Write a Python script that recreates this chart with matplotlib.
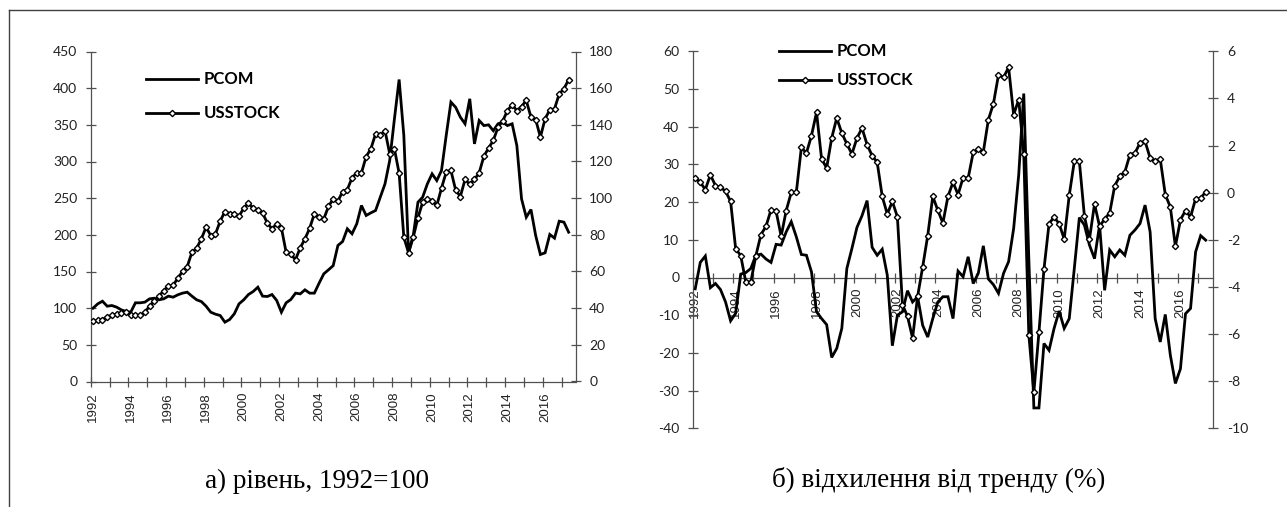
import matplotlib
matplotlib.use("Agg")
import matplotlib.pyplot as plt
import numpy as np
from matplotlib.lines import Line2D

plt.rcParams["axes.unicode_minus"] = False

# ---------------- data (quarterly, 1992Q1 - 2017Q2) ----------------
year_labels = [str(y) for y in range(1992, 2017, 2)]

pcom_level = [100, 105.9, 109.5, 102.7, 103.6, 101.4, 97.7, 95.5, 94.5, 107.3,
              107.3, 108.2, 112.7, 113.6, 111.4, 112.7, 116.4, 115, 118.2, 120.5,
              121.8, 116.4, 111.4, 109, 102.7, 94.5, 91.8, 90, 80.9, 84.5,
              92.3, 105.9, 111.4, 118.6, 122.7, 128.6, 116.4, 115.9, 118.6, 110.5,
              94.5, 107.3, 111.8, 120.5, 119.5, 125, 120.5, 120.5, 134, 146.8,
              152.3, 158, 185.5, 190.9, 208.2, 201.4, 215, 240, 226.4, 230,
              233.2, 251.4, 269.5, 301.4, 358, 411.8, 335.5, 176.4, 199, 244.5,
              251.4, 269.5, 283.2, 274, 287.7, 335.5, 381, 374, 360.5, 351.4,
              385.5, 324, 355.9, 349, 350, 342, 351.4, 353.6, 349, 351.4,
              321.8, 249, 224, 234.5, 199, 173.2, 175.5, 200.5, 195.5, 218.6,
              217.3, 203.6]

usstock_level = [32.9, 33.3, 33.8, 35.1, 36, 36.9, 37.5, 37.8, 36, 36.5,
                 36, 37.8, 41.1, 43.8, 46.5, 49.6, 52, 52.4, 56.4, 60,
                 62.7, 70.5, 72.7, 77.8, 84.2, 79.6, 80.5, 87.5, 92.7, 91.5,
                 91.5, 90.2, 94.5, 97.3, 94.5, 93.3, 92, 86.4, 83.3, 86,
                 83.8, 70.5, 69.3, 66.5, 72.9, 77.8, 83.6, 91.5, 89.6, 88.7,
                 95.5, 99.6, 98.4, 103.6, 104.7, 111.1, 113.8, 113.8, 122.7, 126.9,
                 135.1, 134.2, 136.9, 124.2, 126.9, 113.6, 78.7, 70.2, 78.7, 89.3,
                 97.8, 99.6, 98.7, 96, 105.5, 114.2, 115.1, 104.5, 100.9, 110.2,
                 107.5, 110.2, 113.8, 122.9, 127.3, 131.5, 138.7, 142, 147.8, 150.9,
                 147.8, 150, 153.3, 144.2, 142.9, 133.3, 143.3, 148.2, 148.7, 156.9,
                 159.6, 164.7]

pcom_dev = [-3.0, 4.0, 5.7, -2.7, -1.6, -3.2, -6.5, -11.5, -9.5, 0.9,
            1.3, 2.4, 5.9, 6.2, 4.9, 4.0, 8.8, 8.6, 12.1, 14.8,
            10.8, 6.1, 5.9, 1.5, -9.1, -10.9, -12.5, -21.2, -18.8, -13.5,
            2.4, 7.7, 13.3, 16.4, 20.4, 8.0, 5.9, 7.5, 0.6, -18.1,
            -10.0, -9.1, -3.5, -6.5, -5.1, -12.7, -15.8, -10.9, -6.5, -5.1,
            -5.1, -10.9, 1.7, 0.2, 5.5, -1.6, 1.1, 8.4, -0.4, -1.9,
            -4.2, 1.1, 4.2, 13.0, 27.2, 48.8, 5.0, -34.6, -34.6, -17.5,
            -19.3, -13.5, -8.9, -13.5, -10.9, 2.4, 15.9, 13.9, 8.6, 5.0,
            13.9, -3.4, 7.3, 5.5, 7.3, 5.9, 11.2, 12.6, 14.3, 19.2,
            12.1, -10.9, -17.1, -9.8, -20.6, -28.1, -24.2, -9.6, -8.2, 6.8,
            11.1, 9.9]

usstock_dev = [0.62, 0.44, 0.13, 0.76, 0.3, 0.23, 0.06, -0.37, -2.38, -2.67,
               -3.79, -3.79, -2.67, -1.78, -1.43, -0.72, -0.79, -1.85, -0.76, 0.01,
               0.01, 1.92, 1.68, 2.42, 3.41, 1.43, 1.05, 2.32, 3.17, 2.53,
               2.07, 1.64, 2.32, 2.74, 2.04, 1.57, 1.29, -0.16, -0.91, -0.37,
               -1.03, -4.75, -5.25, -6.17, -4.4, -3.15, -1.82, -0.16, -0.75, -1.29,
               -0.16, 0.44, -0.08, 0.64, 0.62, 1.71, 1.85, 1.73, 3.1, 3.78,
               5.0, 4.89, 5.32, 3.31, 3.95, 1.65, -6.03, -8.47, -5.93, -3.24,
               -1.32, -1.03, -1.32, -1.97, -0.11, 1.33, 1.33, -1.0, -1.97, -0.48,
               -1.43, -1.12, -0.86, 0.3, 0.69, 0.88, 1.61, 1.68, 2.11, 2.18,
               1.47, 1.33, 1.43, -0.08, -0.61, -2.28, -1.15, -0.76, -1.03, -0.25,
               -0.23, 0.03]

series_names = ["PCOM", "USSTOCK"]
caption_a = "а) рівень, 1992=100"
caption_b = "б) відхилення від тренду (%)"

# ---------------- figure ----------------
W, H = 1287, 507
fig = plt.figure(figsize=(W / 100, H / 100), dpi=100)
fig.patch.set_facecolor("white")


def fx(px):
    return px / W


def fy(py):
    return 1 - py / H


AX_COL = "#505050"
TXT_COL = "#222222"
LW = 2.0
TICK_FONT = "Lato"
XTICK_FONT = "Liberation Sans"
n_cat = 103
xpos = np.arange(len(pcom_level)) + 0.5


def style_axes(ax, axr, yticks_l, ylim_l, yticks_r, ylim_r):
    ax.set_xlim(0, n_cat)
    ax.set_ylim(*ylim_l)
    axr.set_ylim(*ylim_r)
    ax.set_yticks(yticks_l)
    axr.set_yticks(yticks_r)
    ax.set_xticks(np.arange(0, 101, 4))
    ax.set_xticklabels([])
    ax.set_xticks(np.arange(0.5, 97, 8), minor=True)
    ax.set_xticklabels(year_labels, minor=True, rotation=90,
                       fontfamily=XTICK_FONT, fontsize=9.5, color=TXT_COL)
    ax.tick_params(axis="x", which="major", direction="inout", length=7,
                   width=0.9, color=AX_COL)
    ax.tick_params(axis="x", which="minor", length=0, pad=7.5)
    ax.tick_params(axis="y", which="major", direction="inout", length=6.5,
                   width=0.9, color=AX_COL, pad=6.5, labelsize=10,
                   labelcolor=TXT_COL)
    axr.tick_params(axis="y", which="major", direction="inout", length=6.5,
                    width=0.9, color=AX_COL, pad=6.5, labelsize=10,
                    labelcolor=TXT_COL)
    for lab in ax.get_yticklabels() + axr.get_yticklabels():
        lab.set_fontfamily(TICK_FONT)
    for s in ["top", "right"]:
        ax.spines[s].set_visible(False)
    for s in ["top", "left", "bottom"]:
        axr.spines[s].set_visible(False)
    for s in ["left", "bottom"]:
        ax.spines[s].set_color(AX_COL)
        ax.spines[s].set_linewidth(0.9)
    axr.spines["right"].set_color(AX_COL)
    axr.spines["right"].set_linewidth(0.9)
    ax.patch.set_alpha(0)


def draw(ax, axr, p, u):
    ax.plot(xpos, p, color="black", lw=LW, solid_joinstyle="miter", zorder=3)
    axr.plot(xpos, u, color="black", lw=LW, marker="D", markersize=3.2,
             markerfacecolor="white", markeredgecolor="black",
             markeredgewidth=1.0, zorder=4)


def legend(x0, x1, y_p, y_u):
    fig.add_artist(Line2D([fx(x0), fx(x1)], [fy(y_p), fy(y_p)],
                          color="black", lw=LW))
    fig.add_artist(Line2D([fx(x0), fx(x1)], [fy(y_u), fy(y_u)],
                          color="black", lw=LW))
    fig.add_artist(Line2D([fx((x0 + x1) / 2)], [fy(y_u)], color="black",
                          marker="D", markersize=3.2, markerfacecolor="white",
                          markeredgewidth=1.0, lw=0))
    fig.text(fx(x1 + 6), fy(y_p), series_names[0], fontfamily="Lato",
             fontweight="bold", fontsize=12, va="center", ha="left",
             color="black")
    fig.text(fx(x1 + 6), fy(y_u), series_names[1], fontfamily="Lato",
             fontweight="bold", fontsize=12, va="center", ha="left",
             color="black")


# ----- left chart: levels -----
ax1 = fig.add_axes([fx(90.7), fy(381.5), fx(575.7) - fx(90.7), fy(51.5) - fy(381.5)])
ax1r = ax1.twinx()
style_axes(ax1, ax1r, np.arange(0, 451, 50), (0, 450),
           np.arange(0, 181, 20), (0, 180))
draw(ax1, ax1r, pcom_level, usstock_level)
legend(146, 198, 79, 113)

# ----- right chart: deviations -----
ax2 = fig.add_axes([fx(692.7), fy(428.3), fx(1213.3) - fx(692.7), fy(51.3) - fy(428.3)])
ax2r = ax2.twinx()
ax2.set_ylim(-40, 60)
ax2.spines["bottom"].set_position(("data", 0))
style_axes(ax2, ax2r, np.arange(-40, 61, 10), (-40, 60),
           np.arange(-10, 7, 2), (-10, 6))
draw(ax2, ax2r, pcom_dev, usstock_dev)
legend(778.6, 830.6, 51, 80)

# ----- captions -----
fig.text(fx(317), fy(481), caption_a, fontfamily="Liberation Serif",
         fontsize=19.5, ha="center", va="center", color="black")
fig.text(fx(938.5), fy(480), caption_b, fontfamily="Liberation Serif",
         fontsize=19.5, ha="center", va="center", color="black")

# ----- outer frame (top and left edges) -----
fig.add_artist(Line2D([fx(9), 1.0], [fy(10), fy(10)], color="#404040", lw=1.0))
fig.add_artist(Line2D([fx(9), fx(9)], [fy(10), 0.0], color="#404040", lw=1.0))

fig.savefig("out.png", dpi=100)
